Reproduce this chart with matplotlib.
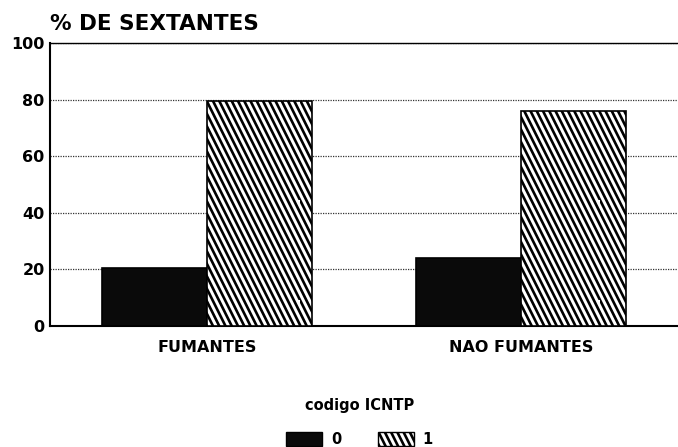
import numpy as np
import matplotlib
matplotlib.use('Agg')
import matplotlib.pyplot as plt
from matplotlib.patches import Patch
from matplotlib import hatch as mhatch
from matplotlib.path import Path

# dados
grupos = ['FUMANTES', 'NAO FUMANTES']
codigo_0 = [20.5, 24.0]
codigo_1 = [79.5, 76.0]
yticks = [0, 20, 40, 60, 80, 100]


# hachura mais inclinada que a padrao de 45 graus (substitui o '\')
class SteepHatch(mhatch.HatchPatternBase):
    def __init__(self, hatch, density):
        n = hatch.count('\\')
        self.num_lines = 24 * n
        self.num_vertices = self.num_lines * 2

    def set_vertices_and_codes(self, vertices, codes):
        c = np.linspace(0.0, 1.5, self.num_lines, endpoint=False)
        vertices[0::2, 0] = c - 0.5
        vertices[0::2, 1] = 1.0
        vertices[1::2, 0] = c
        vertices[1::2, 1] = 0.0
        codes[0::2] = Path.MOVETO
        codes[1::2] = Path.LINETO


for i, cls in enumerate(mhatch._hatch_types):
    if cls.__name__ in ('SouthEastHatch', 'NorthWestHatch'):
        mhatch._hatch_types[i] = SteepHatch

plt.rcParams['font.family'] = 'DejaVu Sans'
plt.rcParams['font.weight'] = 'bold'
plt.rcParams['hatch.linewidth'] = 1.9

fig = plt.figure(figsize=(6.78, 4.47), dpi=100)
ax = fig.add_axes([0.074, 0.271, 0.926, 0.633])

x = np.arange(len(grupos))
w = 1 / 3
ax.bar(x - w / 2, codigo_0, w, color='#0a0a0a', edgecolor='black', linewidth=1.2, zorder=3)
ax.bar(x + w / 2, codigo_1, w, color='white', edgecolor='black', hatch='\\', linewidth=1.2, zorder=3)

ax.set_xlim(-0.5, 1.5)
ax.set_ylim(0, 100)
ax.set_yticks(yticks)
ax.set_yticklabels([str(v) for v in yticks], fontsize=11.5, fontweight='bold')
ax.set_xticks(x)
ax.set_xticklabels(grupos, fontsize=11.5, fontweight='bold')
ax.tick_params(axis='y', length=0, pad=4)
ax.tick_params(axis='x', length=0, pad=10)

ax.yaxis.grid(True, linestyle=(0, (1, 1)), color='#333333', linewidth=0.9, zorder=0)
ax.spines['right'].set_visible(False)
ax.spines['top'].set_linewidth(1.0)
ax.spines['left'].set_linewidth(1.5)
ax.spines['bottom'].set_linewidth(1.5)

fig.text(0.074, 0.933, '% DE SEXTANTES', fontsize=15.5, fontweight='bold', ha='left', va='baseline')

handles = [Patch(facecolor='#0a0a0a', edgecolor='black'),
           Patch(facecolor='white', edgecolor='black', hatch='\\')]
leg = fig.legend(handles, ['0', '1'], title='codigo ICNTP', ncol=2, frameon=False,
                 loc='center', bbox_to_anchor=(0.53, 0.055), fontsize=10.5,
                 title_fontsize=10.5, handlelength=2.5, handleheight=1.1,
                 columnspacing=2.5, handletextpad=0.6)
leg.get_title().set_fontweight('bold')
leg._legend_box.sep = 14

fig.savefig('out.png', dpi=100)
